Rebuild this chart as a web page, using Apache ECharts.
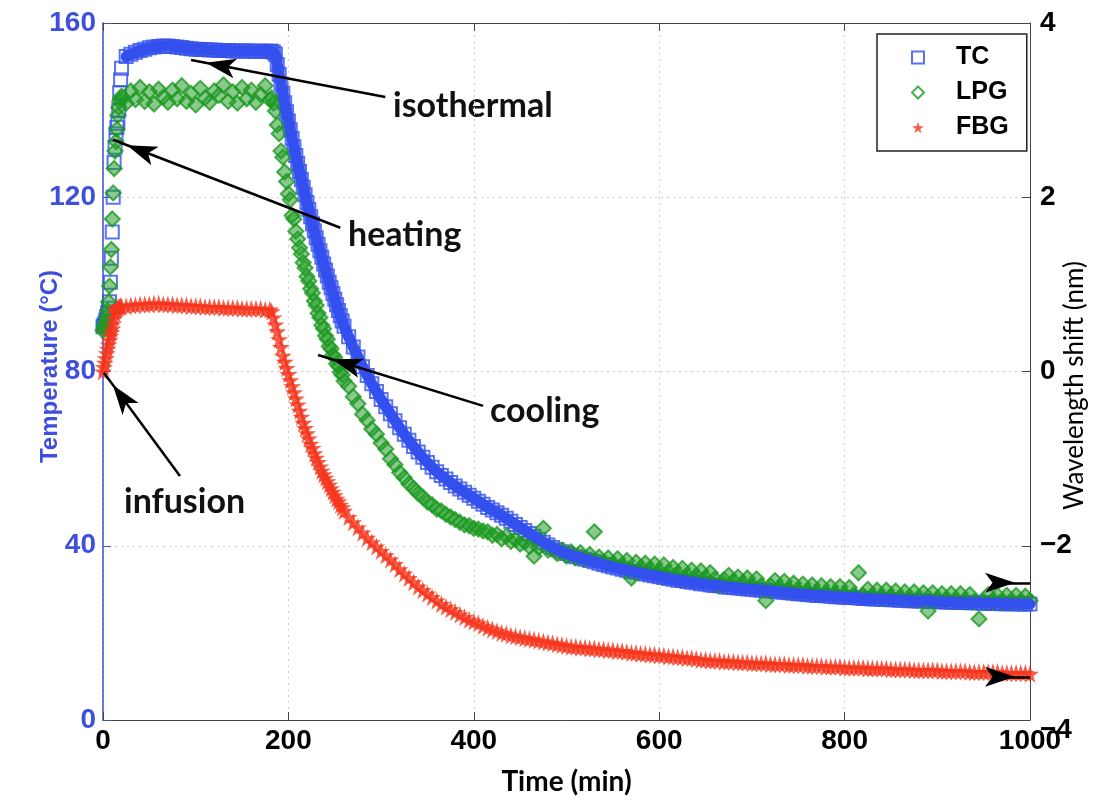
<!DOCTYPE html>
<html><head><meta charset="utf-8">
<script src="https://cdn.jsdelivr.net/npm/echarts/dist/echarts.min.js"></script>
<style>html,body{margin:0;padding:0;background:#fff}#c{width:1109px;height:806px}</style>
</head><body><div id="c"></div>
<script>
// sampling times (min)
const timeMin = [
  0,1,2,3,4,5,6,7,8,9,10,11,12,13,14,15,16,17,18,19,20,
  25,30,35,40,45,50,55,60,65,70,75,80,85,90,95,100,105,110,115,120,125,130,135,140,145,150,155,160,165,170,175,180,
  182,184,186,188,190,192,194,196,198,200,202,204,206,208,210,212,214,216,218,220,
  222,224,226,228,230,232,234,236,238,240,242,244,246,248,250,252,254,256,258,260,
  265,270,275,280,285,290,295,300,305,310,
  315,320,325,330,335,340,345,350,355,360,
  365,370,375,380,385,390,395,400,405,410,
  415,420,425,430,435,440,445,450,455,460,
  465,470,475,480,485,490,495,500,505,510,
  515,520,525,530,535,540,545,550,555,560,
  565,570,575,580,585,590,595,600,605,610,
  615,620,625,630,635,640,645,650,655,660,
  665,670,675,680,685,690,695,700,705,710,
  715,720,725,730,735,740,745,750,755,760,
  765,770,775,780,785,790,795,800,805,810,
  815,820,825,830,835,840,845,850,855,860,
  865,870,875,880,885,890,895,900,905,910,
  915,920,925,930,935,940,945,950,955,960,
  965,970,975,980,985,990,995,1000
];
// TC temperature (°C), left axis
const tcTemp = [
  90.3,90.6,91.0,91.8,92.5,93.5,94.5,96.0,100.5,106.0,112.0,120.0,128.0,131.5,134.6,136.0,137.0,140.0,144.0,147.0,149.6,
  152.3,152.8,153.3,153.7,154.0,154.3,154.5,154.6,154.7,154.7,154.6,154.5,154.4,154.2,154.1,154.0,153.9,153.9,153.8,153.8,
  153.7,153.7,153.7,153.6,153.6,153.6,153.6,153.6,153.5,153.5,153.5,153.5,
  153.5,153.3,152.8,150.5,148.2,146.0,143.9,141.7,139.6,137.5,135.5,133.5,131.6,129.6,127.8,125.9,124.1,122.3,120.6,118.8,
  117.2,115.5,113.9,112.3,110.7,109.2,107.7,106.2,104.7,103.3,101.9,100.5,99.2,97.9,96.6,95.3,94.0,92.8,91.6,90.4,
  88.0,85.6,83.3,81.1,79.1,77.2,75.4,73.6,71.9,70.3,
  68.7,67.1,65.6,64.2,62.8,61.5,60.3,59.1,58.0,57.0,
  56.1,55.3,54.5,53.7,53.0,52.3,51.6,50.9,50.2,49.5,
  48.8,48.2,47.6,47.0,46.3,45.6,44.9,44.2,43.5,42.8,
  42.2,41.5,40.8,40.2,39.6,39.1,38.6,38.2,37.8,37.5,
  37.2,36.9,36.6,36.3,36.0,35.7,35.4,35.1,34.9,34.6,
  34.4,34.1,33.9,33.7,33.5,33.3,33.1,32.9,32.7,32.5,
  32.3,32.1,32.0,31.8,31.6,31.5,31.3,31.2,31.0,30.9,
  30.8,30.6,30.5,30.4,30.3,30.2,30.1,30.0,29.9,29.8,
  29.7,29.6,29.5,29.4,29.3,29.2,29.1,29.0,28.9,28.8,
  28.7,28.6,28.6,28.5,28.4,28.3,28.3,28.2,28.1,28.1,
  28.0,27.9,27.9,27.8,27.8,27.7,27.7,27.6,27.6,27.5,
  27.5,27.4,27.4,27.3,27.3,27.3,27.2,27.2,27.1,27.1,
  27.1,27.0,27.0,27.0,26.9,26.9,26.9,26.8,26.8,26.8,
  26.8,26.7,26.7,26.7,26.7,26.6,26.6,26.6
];
// LPG wavelength shift (nm), right axis
const lpgShift = [
  0.47,0.50,0.53,0.57,0.63,0.70,0.80,0.98,1.20,1.40,1.75,2.05,2.33,2.53,2.64,2.78,2.94,3.03,3.10,3.13,3.16,
  3.08,3.22,3.12,3.26,3.10,3.21,3.07,3.24,3.15,3.09,3.23,3.13,3.28,3.10,3.19,3.06,3.25,3.14,3.09,3.22,
  3.17,3.29,3.10,3.21,3.08,3.26,3.13,3.23,3.09,3.18,3.28,3.12,
  3.14,3.08,2.99,2.83,2.73,2.53,2.46,2.29,2.18,2.04,1.97,1.79,1.75,1.61,1.52,1.42,1.35,1.25,1.19,1.09,
  1.04,0.95,0.90,0.81,0.76,0.67,0.62,0.53,0.49,0.41,0.37,0.29,0.26,0.19,0.16,0.09,0.06,-0.01,-0.04,-0.11,
  -0.17,-0.29,-0.37,-0.49,-0.56,-0.66,-0.72,-0.82,-0.89,-1.00,
  -1.07,-1.16,-1.22,-1.29,-1.34,-1.40,-1.44,-1.50,-1.53,-1.58,
  -1.60,-1.64,-1.67,-1.70,-1.73,-1.76,-1.77,-1.80,-1.81,-1.83,
  -1.84,-1.88,-1.87,-1.92,-1.89,-1.95,-1.93,-1.98,-1.96,-2.01,
  -2.12,-2.02,-1.80,-2.05,-2.03,-2.09,-2.05,-2.12,-2.07,-2.14,
  -2.08,-2.15,-2.10,-1.84,-2.13,-2.19,-2.14,-2.21,-2.15,-2.22,
  -2.17,-2.37,-2.19,-2.25,-2.20,-2.27,-2.21,-2.29,-2.22,-2.30,
  -2.25,-2.32,-2.26,-2.34,-2.28,-2.35,-2.29,-2.37,-2.31,-2.38,
  -2.46,-2.39,-2.34,-2.41,-2.36,-2.43,-2.37,-2.45,-2.38,-2.46,
  -2.63,-2.46,-2.40,-2.48,-2.41,-2.50,-2.43,-2.51,-2.44,-2.52,
  -2.45,-2.53,-2.46,-2.54,-2.47,-2.55,-2.47,-2.56,-2.48,-2.56,
  -2.31,-2.57,-2.50,-2.58,-2.51,-2.59,-2.51,-2.59,-2.52,-2.60,
  -2.53,-2.61,-2.53,-2.61,-2.54,-2.75,-2.54,-2.62,-2.55,-2.62,
  -2.55,-2.63,-2.55,-2.63,-2.56,-2.64,-2.84,-2.64,-2.56,-2.64,
  -2.57,-2.65,-2.57,-2.65,-2.57,-2.65,-2.58,-2.63
];
// FBG wavelength shift (nm), right axis
const fbgShift = [
  0.00,0.05,0.10,0.15,0.21,0.26,0.31,0.36,0.41,0.45,0.49,0.55,0.61,0.67,0.70,0.72,0.73,0.74,0.74,0.75,0.75,
  0.75,0.76,0.76,0.77,0.77,0.77,0.78,0.78,0.77,0.77,0.77,0.76,0.76,0.76,0.75,0.75,0.75,0.74,0.74,0.74,
  0.74,0.73,0.73,0.73,0.73,0.72,0.72,0.72,0.72,0.72,0.71,0.71,
  0.69,0.62,0.54,0.46,0.37,0.28,0.18,0.11,0.04,-0.03,-0.10,-0.17,-0.24,-0.31,-0.38,-0.45,-0.52,-0.59,-0.65,-0.71,
  -0.77,-0.83,-0.88,-0.94,-0.99,-1.04,-1.09,-1.14,-1.18,-1.22,-1.26,-1.30,-1.34,-1.38,-1.42,-1.46,-1.49,-1.53,-1.56,-1.60,
  -1.67,-1.73,-1.79,-1.85,-1.91,-1.96,-2.01,-2.06,-2.11,-2.16,
  -2.21,-2.27,-2.32,-2.37,-2.42,-2.47,-2.51,-2.55,-2.59,-2.63,
  -2.67,-2.70,-2.73,-2.76,-2.79,-2.82,-2.85,-2.87,-2.89,-2.92,
  -2.94,-2.96,-2.98,-3.00,-3.01,-3.03,-3.04,-3.05,-3.06,-3.07,
  -3.08,-3.09,-3.10,-3.11,-3.12,-3.13,-3.14,-3.15,-3.16,-3.16,
  -3.17,-3.17,-3.18,-3.18,-3.19,-3.19,-3.20,-3.20,-3.21,-3.21,
  -3.22,-3.23,-3.23,-3.24,-3.24,-3.25,-3.25,-3.26,-3.26,-3.27,
  -3.27,-3.28,-3.28,-3.29,-3.29,-3.30,-3.31,-3.31,-3.32,-3.32,
  -3.32,-3.33,-3.33,-3.33,-3.34,-3.34,-3.34,-3.35,-3.35,-3.35,
  -3.35,-3.36,-3.36,-3.36,-3.36,-3.37,-3.37,-3.37,-3.37,-3.38,
  -3.38,-3.38,-3.38,-3.39,-3.39,-3.39,-3.39,-3.40,-3.40,-3.40,
  -3.40,-3.40,-3.41,-3.41,-3.41,-3.41,-3.41,-3.42,-3.42,-3.42,
  -3.42,-3.42,-3.43,-3.43,-3.43,-3.43,-3.43,-3.43,-3.44,-3.44,
  -3.44,-3.44,-3.44,-3.44,-3.45,-3.45,-3.45,-3.45,-3.45,-3.45,
  -3.45,-3.46,-3.46,-3.46,-3.46,-3.46,-3.46,-3.47
];
const seriesNames = ['TC', 'LPG', 'FBG'];
// annotation arrows: [from, to] in (time, temperature) coordinates
const arrowLines = [
  [[304.5, 143.0], [95, 151.5]],
  [[256, 113.0], [10.8, 133.2]],
  [[410, 72.1], [232, 83.8]],
  [[83, 56.0], [1, 79.7]],
  [[968, 31.5], [1000, 31.5]],
  [[968, 9.9], [1000, 9.9]]
];
const annotations = [
  {text: 'isothermal', x: 393, y: 106},
  {text: 'heating', x: 348, y: 235},
  {text: 'cooling', x: 490, y: 411},
  {text: 'infusion', x: 124, y: 502}
];

const BLUE = '#3350ee', GREEN = '#1d9a22', RED = '#f5351c', LBLUE = '#3d4fdc';
const BLUE_FILL = 'rgba(255,255,255,0.15)', GREEN_FILL = 'rgba(29,154,34,0.65)';
const STAR = 'path://M50,0 L61,35 L98,35 L68,57 L79,91 L50,70 L21,91 L32,57 L2,35 L39,35 Z';
const pairs = v => timeMin.map((t, i) => [t, v[i]]);
const HEAT_END = 21; // index where the isothermal plateau starts
const minus = v => String(v).replace('-', '\u2212');

const chart = echarts.init(document.getElementById('c'));
const tickFont = {fontFamily: 'Liberation Sans', fontWeight: 'bold', fontSize: 28};
const gridLine = {show: true, lineStyle: {color: '#cdcdcd', type: [2, 4], width: 1}};

chart.setOption({
  animation: false,
  backgroundColor: '#fff',
  grid: {left: 103, right: 79, top: 23, bottom: 86},
  xAxis: [{
    type: 'value', min: 0, max: 1000, interval: 200, position: 'bottom',
    name: 'Time (min)', nameLocation: 'middle', nameGap: 48, nameMoveOverlap: false,
    nameTextStyle: {fontFamily: 'Lato', fontWeight: 'bold', fontSize: 28, color: '#000'},
    axisLine: {show: true, onZero: false, lineStyle: {color: '#444', width: 1}},
    axisTick: {show: true, inside: true, length: 8, lineStyle: {color: '#444'}},
    axisLabel: Object.assign({color: '#000', margin: 7, formatter: v => String(v)}, tickFont),
    splitLine: gridLine
  }, {
    type: 'value', min: 0, max: 1000, interval: 200, position: 'top',
    axisLine: {show: true, onZero: false, lineStyle: {color: '#444', width: 1}},
    axisTick: {show: true, inside: true, length: 8, lineStyle: {color: '#444'}},
    axisLabel: {show: false}, splitLine: {show: false}
  }],
  yAxis: [{
    type: 'value', min: 0, max: 160, interval: 40, position: 'left',
    name: 'Temperature (°C)', nameLocation: 'middle', nameGap: 41, nameMoveOverlap: false,
    nameTextStyle: {fontFamily: 'Liberation Sans', fontWeight: 'bold', fontSize: 24, color: LBLUE, padding: [0, 0, 0, 10]},
    axisLine: {show: true, onZero: false, lineStyle: {color: LBLUE, width: 1.5}},
    axisTick: {show: true, inside: true, length: 8, lineStyle: {color: LBLUE}},
    axisLabel: Object.assign({color: LBLUE, margin: 7}, tickFont),
    splitLine: gridLine
  }, {
    type: 'value', min: -4, max: 4, interval: 2, position: 'right',
    name: 'Wavelength shift (nm)', nameLocation: 'middle', nameGap: 32, nameMoveOverlap: false,
    nameTextStyle: {fontFamily: 'Lato', fontSize: 26, color: '#000', padding: [0, 28, 0, 0]},
    axisLine: {show: true, onZero: false, lineStyle: {color: '#444', width: 1}},
    axisTick: {show: true, inside: true, length: 8, lineStyle: {color: '#444'}},
    axisLabel: Object.assign({
      color: '#000', margin: 10,
      formatter: v => v === -4 ? '{low|' + minus(v) + '}' : minus(v),
      rich: {low: Object.assign({color: '#000', padding: [20, 0, 0, 0]}, tickFont)}
    }, tickFont),
    splitLine: {show: false}
  }],
  legend: {
    orient: 'vertical', left: 877, top: 34, selectedMode: false,
    padding: [11, 18, 11, 34], itemGap: 10, itemWidth: 12, itemHeight: 12,
    borderColor: '#222', borderWidth: 1.5, backgroundColor: '#fff',
    textStyle: {fontFamily: 'Liberation Sans', fontWeight: 'bold', fontSize: 25, color: '#000', padding: [0, 0, 0, 27]},
    data: [
      {name: 'TC', icon: 'rect', itemStyle: {color: 'rgba(0,0,0,0)', borderColor: BLUE, borderWidth: 2}},
      {name: 'LPG', icon: 'diamond', itemStyle: {color: 'rgba(0,0,0,0)', borderColor: GREEN, borderWidth: 2}},
      {name: 'FBG', icon: STAR, itemStyle: {color: RED}}
    ]
  },
  series: [{
    // dense TC trace (overlapping markers) after heating
    name: 'TC trace', type: 'line', xAxisIndex: 0, yAxisIndex: 0, silent: true,
    showSymbol: false, symbol: 'none',
    lineStyle: {color: BLUE, width: 11, cap: 'round', join: 'round'},
    data: pairs(tcTemp).slice(HEAT_END)
  }, {
    name: seriesNames[0], type: 'scatter', xAxisIndex: 0, yAxisIndex: 0, silent: true,
    symbol: 'rect', symbolSize: 13,
    itemStyle: {color: BLUE_FILL, borderColor: BLUE, borderWidth: 2},
    data: pairs(tcTemp),
    markLine: {
      silent: true, animation: false,
      symbol: ['none', 'arrow'],
      lineStyle: {color: '#000', width: 2.5, type: 'solid'},
      label: {show: false}, emphasis: {disabled: true},
      data: arrowLines.map(a => [
        {coord: a[0], symbol: 'none'},
        {coord: a[1], symbol: 'arrow', symbolSize: [15, 30], symbolOffset: [0, 15]}
      ])
    }
  }, {
    name: seriesNames[1], type: 'scatter', xAxisIndex: 0, yAxisIndex: 1, silent: true,
    symbol: 'diamond', symbolSize: 15,
    itemStyle: {color: GREEN_FILL, borderColor: GREEN, borderWidth: 2},
    data: pairs(lpgShift)
  }, {
    name: seriesNames[2], type: 'scatter', xAxisIndex: 0, yAxisIndex: 1, silent: true,
    symbol: STAR, symbolSize: 18,
    itemStyle: {color: RED},
    data: pairs(fbgShift)
  }],
  graphic: annotations.map(a => ({
    type: 'text', x: a.x, y: a.y, silent: true,
    style: {text: a.text, font: 'bold 34px Lato', fill: '#111', verticalAlign: 'middle', align: 'left'}
  }))
});
</script>
</body></html>
